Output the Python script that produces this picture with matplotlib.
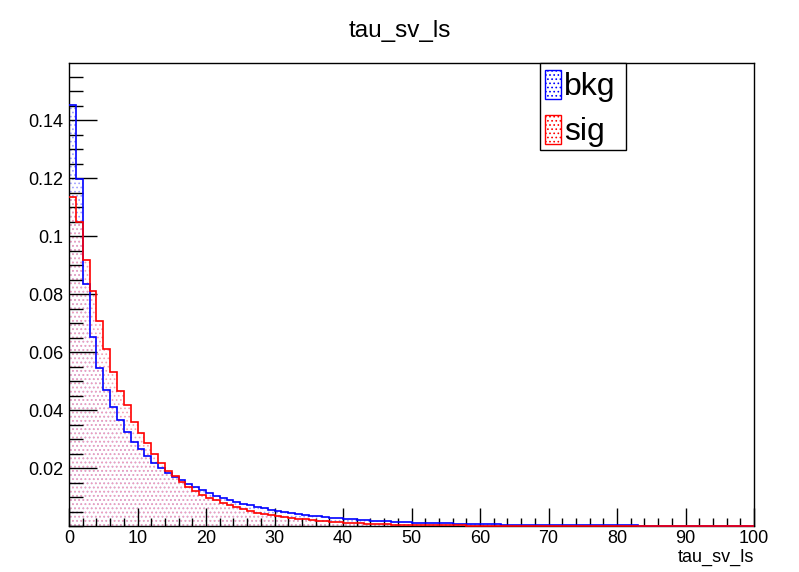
import numpy as np
import matplotlib
matplotlib.use('Agg')
import matplotlib.pyplot as plt
import matplotlib.ticker as ticker
from matplotlib.patches import Patch, Rectangle

# 直方圖分箱：0~100，每箱寬 1
bin_edges = np.arange(0, 101, 1)

# 背景 (bkg) 各箱比例
bkg = [0.1452, 0.1197, 0.0836, 0.0653, 0.0544, 0.0469, 0.0411, 0.0366, 0.0325, 0.0291,
       0.0264, 0.0241, 0.0218, 0.0200, 0.0183, 0.0170, 0.0157, 0.0145, 0.0133, 0.0123,
       0.0114, 0.0105, 0.0097, 0.0089, 0.0083, 0.0077, 0.0071, 0.0066, 0.0061, 0.0056,
       0.0052, 0.0048, 0.0045, 0.0041, 0.0038, 0.0036, 0.0033, 0.0031, 0.0029, 0.0027,
       0.0025, 0.0023, 0.0022, 0.0020, 0.0019, 0.0018, 0.0016, 0.0015, 0.0014, 0.0013,
       0.0012, 0.0011, 0.0011, 0.0010, 0.0009, 0.0009, 0.0008, 0.0008, 0.0007, 0.0007,
       0.0006, 0.0006, 0.0006, 0.0005, 0.0005, 0.0005, 0.0004, 0.0004, 0.0004, 0.0004,
       0.0003, 0.0003, 0.0003, 0.0003, 0.0003, 0.0002, 0.0002, 0.0002, 0.0002, 0.0002,
       0.0002, 0.0002, 0.0002, 0.0001, 0.0001, 0.0001, 0.0001, 0.0001, 0.0001, 0.0001,
       0.0001, 0.0001, 0.0001, 0.0001, 0.0001, 0.0001, 0.0001, 0.0001, 0.0001, 0.0001]

# 訊號 (sig) 各箱比例
sig = [0.1136, 0.1048, 0.0917, 0.0811, 0.0708, 0.0609, 0.0532, 0.0466, 0.0417, 0.0360,
       0.0320, 0.0285, 0.0248, 0.0218, 0.0191, 0.0172, 0.0153, 0.0136, 0.0120, 0.0108,
       0.0097, 0.0088, 0.0079, 0.0071, 0.0064, 0.0057, 0.0051, 0.0046, 0.0042, 0.0038,
       0.0034, 0.0031, 0.0028, 0.0025, 0.0023, 0.0021, 0.0019, 0.0017, 0.0015, 0.0013,
       0.0011, 0.0010, 0.0009, 0.0008, 0.0007, 0.0006, 0.0006, 0.0005, 0.0005, 0.0004,
       0.0004, 0.0003, 0.0003, 0.0003, 0.0002, 0.0002, 0.0002, 0.0002, 0.0001, 0.0001,
       0.0001, 0.0001, 0.0001, 0.0001, 0.0001, 0.0001, 0.0001, 0.0000, 0.0000, 0.0000,
       0.0000, 0.0000, 0.0000, 0.0000, 0.0000, 0.0000, 0.0000, 0.0000, 0.0000, 0.0000,
       0.0000, 0.0000, 0.0000, 0.0000, 0.0000, 0.0000, 0.0000, 0.0000, 0.0000, 0.0000,
       0.0000, 0.0000, 0.0000, 0.0000, 0.0000, 0.0000, 0.0000, 0.0000, 0.0000, 0.0000]

title = 'tau_sv_ls'
x_label = 'tau_sv_ls'
x_ticks = [0, 10, 20, 30, 40, 50, 60, 70, 80, 90, 100]
y_ticks = [0.02, 0.04, 0.06, 0.08, 0.1, 0.12, 0.14]
y_tick_labels = ['0.02', '0.04', '0.06', '0.08', '0.1', '0.12', '0.14']

plt.rcParams['font.family'] = ['Liberation Sans', 'DejaVu Sans']
plt.rcParams['hatch.linewidth'] = 0.7

fig = plt.figure(figsize=(7.99, 5.72), dpi=100)
ax = fig.add_axes([0.0864, 0.0804, 0.8573, 0.8095])

# 點狀填色 + 階梯線（不畫到基線的垂直邊）
ax.stairs(bkg, bin_edges, fill=True, facecolor='none', edgecolor='#a0a0ff', hatch='....', linewidth=0)
ax.stairs(sig, bin_edges, fill=True, facecolor='none', edgecolor='#f5a0b4', hatch='....', linewidth=0)
ax.stairs(bkg, bin_edges, baseline=None, color='#0000ff', linewidth=1.2, zorder=3, clip_on=False)
ax.stairs(sig, bin_edges, baseline=None, color='#ff0000', linewidth=1.2, zorder=3, clip_on=False)

ax.set_xlim(0, 100)
ax.set_ylim(0, max(bkg) * 1.1)

ax.set_xticks(x_ticks)
ax.set_xticklabels([str(t) for t in x_ticks], fontsize=13)
ax.xaxis.set_minor_locator(ticker.MultipleLocator(2))
ax.set_yticks(y_ticks)
ax.set_yticklabels(y_tick_labels, fontsize=13)
ax.yaxis.set_minor_locator(ticker.MultipleLocator(0.005))

ax.tick_params(axis='x', which='major', direction='in', length=13, width=1, pad=3)
ax.tick_params(axis='x', which='minor', direction='in', length=6, width=1)
ax.tick_params(axis='y', which='major', direction='in', length=20, width=1, pad=4)
ax.tick_params(axis='y', which='minor', direction='in', length=10, width=1)
for s in ax.spines.values():
    s.set_linewidth(1)

fig.text(0.5, 0.945, title, ha='center', va='center', fontsize=17.5)
fig.text(0.9437, 0.018, x_label, ha='right', va='baseline', fontsize=13)

# 圖例：外框另外畫
ax.add_patch(Rectangle((0.6876, 0.8121), 0.1255, 0.1879, transform=ax.transAxes,
                       facecolor='white', edgecolor='black', linewidth=1, zorder=4, clip_on=False))
handles = [Patch(facecolor='white', edgecolor='#0000ff', hatch='....', label='bkg'),
           Patch(facecolor='white', edgecolor='#ff0000', hatch='....', label='sig')]
leg = ax.legend(handles=handles, loc='upper left', bbox_to_anchor=(0.6876, 0.995),
                fontsize=23, frameon=False, borderaxespad=0, handlelength=0.5,
                handleheight=1.0, handletextpad=0.1, borderpad=0.15, labelspacing=0.4)
leg.set_zorder(5)

plt.savefig('out.png', dpi=100)
